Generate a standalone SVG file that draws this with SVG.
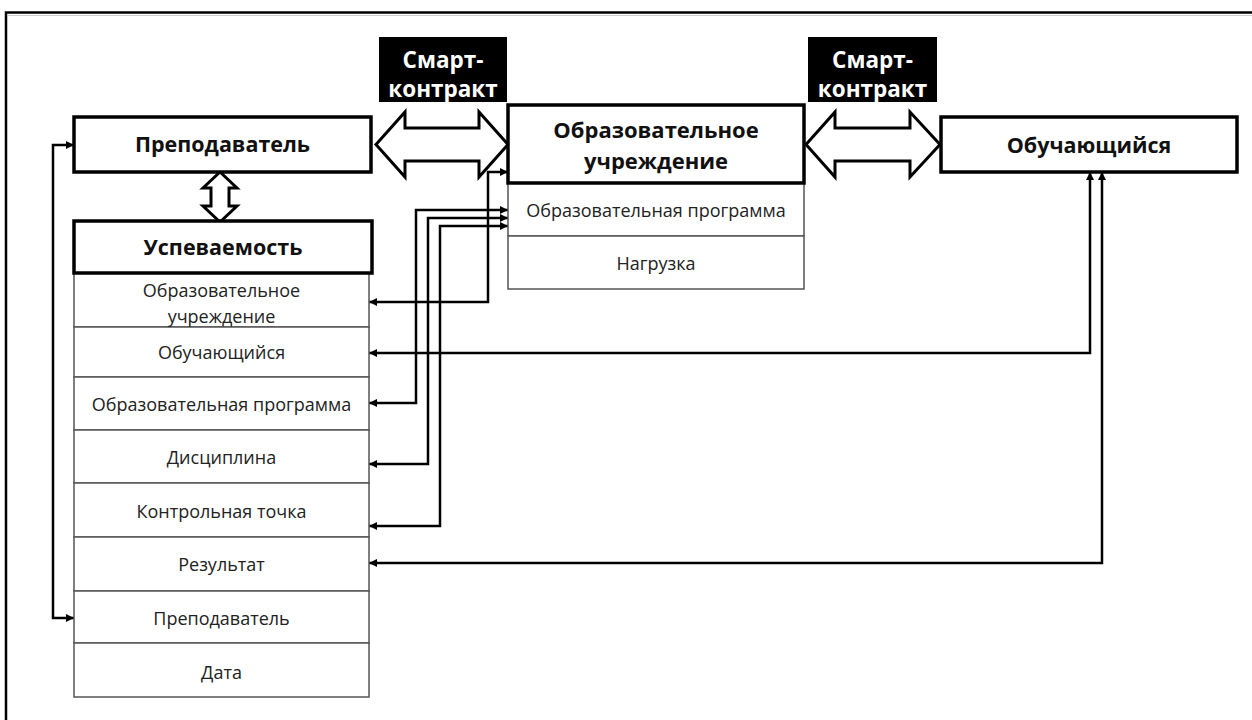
<svg xmlns="http://www.w3.org/2000/svg" width="1252" height="720" viewBox="0 0 1252 720">
<defs>
<style>
.frame{fill:none;stroke:#000;stroke-width:2.5}
.thick{fill:#fff;stroke:#000;stroke-width:3.5}
.thin{fill:#fff;stroke:#555;stroke-width:1.5}
.dbl{fill:#fff;stroke:#000;stroke-width:3;stroke-linejoin:miter}
.sc{fill:#000}
.conn{fill:none;stroke:#000;stroke-width:2.5;marker-start:url(#ah);marker-end:url(#ah)}
text{font-family:"Open Sans","Noto Sans",sans-serif;text-anchor:middle;fill:#222}
.b{font-weight:bold;fill:#111}
.w{font-weight:bold;fill:#fff;font-size:22.5px}
.h{font-size:21.5px}
.r{font-size:18px}
</style>
<marker id="ah" viewBox="0 0 10 10" refX="10" refY="5" markerWidth="8" markerHeight="8" markerUnits="userSpaceOnUse" orient="auto-start-reverse">
<path d="M0,0 L10,5 L0,10 z" fill="#000"/>
</marker>
</defs>
<rect width="1252" height="720" fill="#fff"/>
<path class="frame" d="M6,720 V12.5 H1252"/>
<line x1="7" y1="15.5" x2="1252" y2="15.5" stroke="#ccc" stroke-width="1"/>

<g id="connectors">
<path class="conn" d="M74,145 H53 V618 H74"/>
<path class="conn" d="M508,172 H488 V302 H369"/>
<path class="conn" d="M508,210 H416 V403 H369"/>
<path class="conn" d="M508,218 H428 V464 H369"/>
<path class="conn" d="M508,226 H440 V526 H369"/>
<path class="conn" d="M1090,172 V353 H369"/>
<path class="conn" d="M1102,172 V563 H369"/>
<polygon class="dbl" points="376,144.5 405,112 405,128 479,128 479,112 508,144.5 479,177 479,161 405,161 405,177"/>
<polygon class="dbl" points="806,144.5 835,112 835,128 910,128 910,112 940,144.5 910,177 910,161 835,161 835,177"/>
<polygon class="dbl" points="220,172 237,188 229,188 229,206 237,206 220,222 203,206 211,206 211,188 203,188"/>
</g>

<g id="smart1">
<rect class="sc" x="379" y="37" width="128" height="65"/>
<text class="w" x="443" y="68">Смарт-</text>
<text class="w" x="443" y="97">контракт</text>
</g>
<g id="smart2">
<rect class="sc" x="808" y="37" width="129" height="65"/>
<text class="w" x="872.5" y="68">Смарт-</text>
<text class="w" x="872.5" y="97">контракт</text>
</g>

<g id="teacher">
<rect class="thick" x="74" y="117" width="297" height="55"/>
<text class="b h" x="222.5" y="152">Преподаватель</text>
</g>

<g id="institution">
<rect class="thin" x="508" y="183" width="296" height="53"/>
<rect class="thin" x="508" y="236" width="296" height="53"/>
<text class="r" x="656" y="216.5">Образовательная программа</text>
<text class="r" x="656" y="269.5">Нагрузка</text>
<rect class="thick" x="508" y="105" width="296" height="78"/>
<text class="b" x="656" y="138" font-size="22">Образовательное</text>
<text class="b" x="656" y="169" font-size="22">учреждение</text>
</g>

<g id="student">
<rect class="thick" x="941" y="117" width="296" height="55"/>
<text class="b h" x="1089" y="153">Обучающийся</text>
</g>

<g id="progress">
<rect class="thin" x="74" y="273" width="295" height="54"/>
<rect class="thin" x="74" y="327" width="295" height="50"/>
<rect class="thin" x="74" y="377" width="295" height="53"/>
<rect class="thin" x="74" y="430" width="295" height="53"/>
<rect class="thin" x="74" y="483" width="295" height="54"/>
<rect class="thin" x="74" y="537" width="295" height="54"/>
<rect class="thin" x="74" y="591" width="295" height="52"/>
<rect class="thin" x="74" y="643" width="295" height="54"/>
<rect class="thick" x="74" y="221" width="298" height="52"/>
<text class="b h" x="223" y="255">Успеваемость</text>
<text class="r" x="221.5" y="296.5">Образовательное</text>
<text class="r" x="221.5" y="323">учреждение</text>
<text class="r" x="221.5" y="358.5">Обучающийся</text>
<text class="r" x="221.5" y="410.5">Образовательная программа</text>
<text class="r" x="221.5" y="463.5">Дисциплина</text>
<text class="r" x="221.5" y="517.5">Контрольная точка</text>
<text class="r" x="221.5" y="570.5">Результат</text>
<text class="r" x="221.5" y="624.5">Преподаватель</text>
<text class="r" x="221.5" y="678.5">Дата</text>
</g>
</svg>
